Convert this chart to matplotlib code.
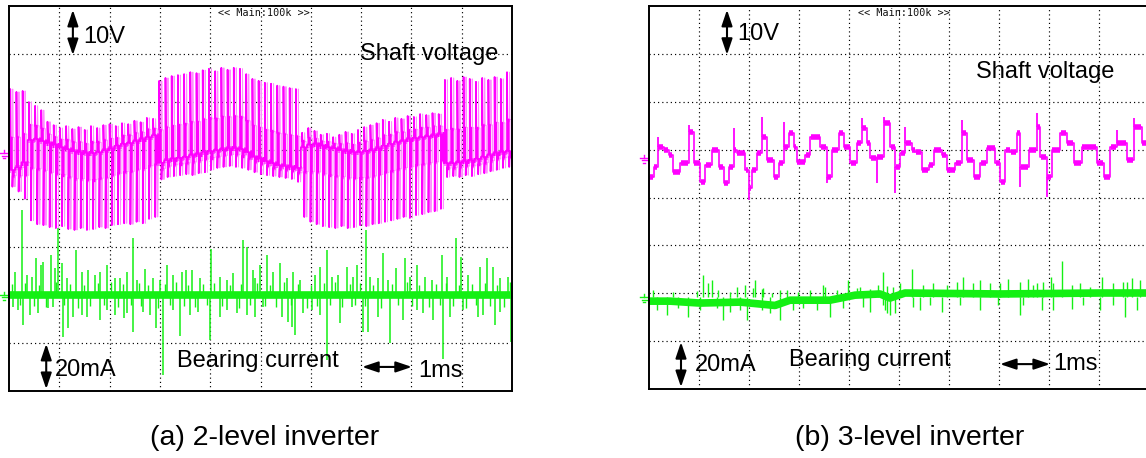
import numpy as np
import matplotlib
matplotlib.use('Agg')
import matplotlib.pyplot as plt

plt.rcParams['font.family'] = ['Liberation Sans', 'DejaVu Sans']

MAG = '#ff00ff'
MAG_LT = '#ff8cff'
GRN = '#14f014'

# ---------------- (a) 2-level inverter ----------------
# shaft voltage [V], one value per switching period (81 periods over 10 ms)
sv2_top = [13.3, 12.7, 12.9,
           10.6, 9.8, 8.9, 6.5, 5.8, 5.2, 5.6, 5.0, 5.4, 4.8, 5.6, 5.2, 5.8, 6.0, 5.6, 6.2, 6.0, 6.7, 6.4, 7.3, 7.1,
           15.0, 15.6, 16.0, 16.2, 16.4, 16.8, 16.6, 17.2, 17.5, 17.0, 17.7, 17.3, 17.7, 17.5, 16.4, 15.4, 15.0,
           14.6, 14.4, 14.0, 13.8, 13.5, 13.3,
           4.2, 5.2, 4.6, 3.8, 4.0, 3.3, 3.8, 4.4, 4.0, 4.8, 5.4, 5.8, 6.2, 6.9, 6.5, 7.3, 7.1, 7.7, 7.5, 8.1,
           7.9, 8.3, 8.1,
           15.2, 15.6, 15.0, 15.8, 15.4, 14.8, 15.6, 15.2, 15.8, 15.4, 16.8]
sv2_mid = [-3.5, -3.0, -2.0,
           2.7, 2.9, 2.5, 2.1, 1.7, 1.2, 0.8, 0.4, 0.2, 0.0, 0.0, 0.2, 0.6, 1.0, 1.5, 1.9, 2.1, 2.5, 2.9, 3.3, 3.7,
           -2.0, -1.5, -1.2, -1.0, -0.8, -0.4, -0.2, 0.2, 0.4, 0.6, 0.8, 1.0, 1.0, 0.8, 0.2, -0.8, -1.2, -1.7,
           -2.1, -2.5, -2.7, -2.9, -3.1,
           1.2, 1.7, 1.9, 1.5, 1.2, 1.0, 0.6, 0.4, 0.2, 0.2, 0.4, 0.6, 1.0, 1.5, 1.9, 2.3, 2.5, 2.9, 3.1, 3.3,
           3.5, 3.7, 3.9,
           -2.1, -2.1, -1.9, -1.7, -1.5, -1.2, -0.8, -0.4, 0.0, 0.2, 0.4]
sv2_bot = [-7.0, -8.0, -9.5,
           -14.0, -14.8, -15.0, -15.4, -15.6, -15.2, -15.8, -16.0, -15.6, -16.0, -15.8, -15.4, -15.6, -15.0,
           -14.8, -14.6, -14.8, -14.3, -14.6, -13.7, -13.3,
           -5.5, -5.0, -4.8, -4.6, -4.4, -4.6, -4.2, -4.0, -3.5, -3.1, -2.9, -2.7, -2.9, -3.1, -3.5, -4.0, -4.4,
           -4.6, -4.8, -5.0, -5.2, -5.4, -6.0,
           -13.3, -14.3, -14.8, -15.2, -15.4, -15.6, -15.2, -15.6, -15.4, -15.0, -15.2, -14.8, -14.6, -14.3,
           -14.0, -13.7, -13.3, -13.5, -12.9, -12.7, -12.3, -12.1, -11.6,
           -5.0, -4.8, -5.0, -4.6, -4.8, -4.4, -4.2, -3.8, -3.5, -3.1, -2.9]

# bearing current spikes: time [ms], peak [mA]
ic2_t = [0.12, 0.26, 0.36, 0.46, 0.54, 0.64, 0.68, 0.83, 0.91, 0.97, 1.05, 1.15, 1.33, 1.45, 1.57, 1.71,
         1.81, 1.95, 2.11, 2.21, 2.35, 2.47, 2.54, 2.70, 2.86, 3.00, 3.14, 3.26, 3.44, 3.52, 3.64, 3.80,
         4.02, 4.19, 4.33, 4.45, 4.65, 4.73, 4.85, 4.89, 4.99, 5.13, 5.25, 5.39, 5.53, 5.65, 5.79, 6.08,
         6.18, 6.32, 6.42, 6.54, 6.72, 6.84, 6.92, 7.10, 7.18, 7.34, 7.44, 7.53, 7.69, 7.87, 7.97, 8.11,
         8.27, 8.41, 8.61, 8.71, 8.89, 8.99, 9.13, 9.36, 9.50, 9.62, 9.76, 9.92,
         0.08, 0.18, 0.28, 0.42, 0.58, 0.78, 0.87, 1.07, 1.17, 1.27, 1.45, 1.55, 1.81, 1.95, 2.11, 2.29,
         2.35, 2.47, 2.66, 2.80, 2.92, 3.06, 3.26, 3.40, 3.60, 3.76, 4.00, 4.19, 4.33, 4.53, 4.73, 4.89,
         5.05, 5.43, 5.55, 5.63, 5.69, 5.85, 6.02, 6.18, 6.32, 6.58, 6.82, 7.04, 7.14, 7.34, 7.57, 7.83,
         8.11, 8.23, 8.43, 8.63, 8.77, 9.03, 9.32, 9.42, 9.66, 9.76, 9.99]
ic2_a = [9.6, 35.3, 8.3, 7.5, 15.4, 12.5, 13.7, 16.6, 11.2, 27.9, 13.3, 7.1, 18.7, 9.6, 10.4, 8.3,
         9.6, 12.5, 7.1, 7.1, 9.6, 23.7, 6.2, 10.8, 7.1, 6.2, 12.5, 8.3, 9.6, 10.4, 10.4, 7.1,
         19.1, 7.5, 6.2, 9.1, 22.9, 20.0, 10.4, 7.1, 12.5, 16.6, 9.6, 13.3, 7.1, 9.6, 6.2, 8.3,
         11.6, 18.7, 7.5, 8.3, 11.6, 7.5, 12.5, 27.0, 7.5, 7.1, 17.5, 6.2, 11.2, 15.4, 7.5, 12.5,
         7.5, 6.2, 16.6, 7.5, 23.7, 15.8, 8.3, 11.6, 15.4, 11.6, 7.1, 7.5,
         -5.0, -6.2, -12.5, -8.3, -7.5, -5.4, -5.0, -17.5, -13.7, -9.1, -8.3, -9.1, -10.4, -6.2, -8.3, -9.6,
         -7.5, -15.4, -7.1, -8.3, -13.7, -33.3, -6.2, -17.0, -8.3, -7.1, -18.7, -9.1, -6.2, -7.5, -8.3, -9.1,
         -5.0, -9.1, -11.2, -13.3, -16.6, -7.5, -6.2, -8.3, -27.0, -11.6, -5.0, -15.4, -15.4, -9.1, -20.0, -10.4,
         -6.2, -7.5, -10.4, -26.6, -9.1, -6.2, -9.1, -8.3, -12.5, -7.1, -19.5]
# smaller ringing around the trace
ic2_st = [0.05, 0.22, 0.32, 0.50, 0.60, 0.74, 0.94, 1.10, 1.22, 1.38, 1.50, 1.62, 1.76, 1.88, 2.02, 2.16,
          2.26, 2.42, 2.58, 2.62, 2.76, 2.96, 3.10, 3.20, 3.32, 3.48, 3.56, 3.70, 3.86, 3.94, 4.08, 4.24,
          4.40, 4.58, 4.62, 4.80, 4.94, 5.08, 5.18, 5.30, 5.46, 5.60, 5.74, 5.92, 6.00, 6.12, 6.26, 6.38,
          6.48, 6.62, 6.78, 6.88, 6.98, 7.08, 7.24, 7.40, 7.62, 7.74, 7.92, 8.02, 8.16, 8.34, 8.48, 8.56,
          8.68, 8.82, 8.94, 9.08, 9.20, 9.28, 9.46, 9.56, 9.70, 9.84, 9.96]
ic2_sa = [4.6, -4.2, 5.0, -4.6, 4.2, -5.0, 5.4, -4.2, 4.6, -5.4, 4.2, -4.6, 5.0, -4.2, 5.4, -5.0,
          4.6, -4.2, 5.0, -4.6, 4.2, -5.4, 4.6, -4.2, 5.4, -4.6, 4.2, -5.0, 4.6, -4.2, 5.0, -4.6,
          4.2, -5.4, 4.6, -4.2, 5.0, -4.6, 4.2, -5.0, 5.4, -4.2, 4.6, -5.4, 4.2, -4.6, 5.0, -4.2,
          5.4, -5.0, 4.6, -4.2, 5.0, -4.6, 4.2, -5.4, 4.6, -4.2, 5.4, -4.6, 4.2, -5.0, 4.6, -4.2,
          5.0, -4.6, 4.2, -5.4, 4.6, -4.2, 5.0, -4.6, 4.2, -5.0, 5.4]

# ---------------- (b) 3-level inverter ----------------
# shaft voltage staircase: step start [ms], level [V], overshoot at the step [V]
sv3_t = [0.00, 0.09, 0.17, 0.29, 0.39, 0.47, 0.62, 0.79, 0.89, 1.02, 1.12, 1.25, 1.39, 1.49, 1.59, 1.69,
         1.75, 1.92, 1.99, 2.05, 2.15, 2.25, 2.35, 2.49, 2.59, 2.69, 2.79, 2.89, 2.95, 3.12, 3.22, 3.42,
         3.55, 3.65, 3.79, 3.89, 4.02, 4.15, 4.25, 4.35, 4.42, 4.55, 4.69, 4.82, 4.92, 5.02, 5.12, 5.25,
         5.32, 5.45, 5.59, 5.69, 5.85, 5.95, 6.12, 6.25, 6.35, 6.49, 6.62, 6.75, 6.92, 7.02, 7.12, 7.22,
         7.35, 7.42, 7.59, 7.75, 7.82, 7.95, 8.05, 8.22, 8.35, 8.49, 8.65, 8.95, 9.09, 9.22, 9.35, 9.55,
         9.69, 9.85]
sv3_v = [-4.0, -1.9, 2.3, 1.7, 0.6, -2.9, -1.0, 5.4, -1.0, -5.0, -1.5, 1.7, -1.9, -5.2, -1.9, 1.7,
         1.0, -2.5, -6.3, -2.5, 1.0, 4.4, -0.4, -4.0, -1.0, 2.3, 5.2, 2.3, -0.8, 0.6, 4.4, 2.3,
         -4.0, 1.7, 5.2, 2.3, -1.0, 3.1, 6.3, 3.1, 0.0, 0.2, 7.3, 2.3, -1.9, 1.0, 3.1, 1.7,
         1.3, -2.5, -1.5, 1.7, 0.6, -2.5, -1.0, 5.2, -0.4, -4.0, -1.0, 2.1, -1.0, -5.0, 1.7, 1.3,
         5.2, -1.9, 1.7, 6.5, 0.2, -4.0, 1.7, 5.2, 3.1, -1.0, 2.3, -1.0, -4.0, 2.3, 3.1, -0.4,
         6.5, 3.1]
sv3_pk = [-6.7, -1.9, 4.4, 1.7, 0.6, -2.9, -1.0, 6.9, -1.0, -5.0, -1.5, 1.7, -1.9, -5.2, -1.9, 6.3,
          1.0, -2.5, -8.8, -2.5, 1.0, 8.6, -0.4, -4.0, -1.0, 7.5, 5.2, 2.3, -0.8, 0.6, 4.4, 2.3,
          -5.2, 1.7, 5.2, 2.3, -1.0, 3.1, 8.4, 3.1, 0.0, -5.2, 8.6, 2.3, -7.3, 1.0, 6.5, 1.7,
          1.3, -2.5, -1.5, 1.7, 0.6, -2.5, -1.0, 7.9, -0.4, -4.0, -1.0, 2.1, -1.0, -5.0, 1.7, 1.3,
          5.2, -6.1, 1.7, 9.4, 0.2, -8.1, 1.7, 5.2, 3.1, -1.0, 2.3, -1.0, -4.0, 2.3, 5.8, -0.4,
          8.4, 3.1]

# bearing current: noise band centre [ms], [mA]
ic3_bt = [0.0, 0.42, 1.02, 1.82, 2.52, 2.82, 3.62, 4.12, 4.62, 4.82, 5.12, 7.02, 9.02, 10.0]
ic3_ba = [-1.7, -1.7, -2.5, -2.1, -3.5, -1.3, -1.3, 0.8, 1.3, -0.4, 1.7, 1.3, 1.7, 1.7]
# spikes
ic3_t = [1.08, 1.26, 1.92, 2.12, 2.28, 2.62, 3.48, 3.98, 4.16, 4.68, 5.26, 5.68, 6.28, 6.62, 7.18,
         7.58, 7.76, 8.04, 8.26, 9.06, 9.48, 9.66,
         0.36, 0.78, 1.48, 1.96, 2.62, 3.62, 4.42, 4.76, 4.92, 5.28, 5.86, 6.98, 7.86, 8.46, 9.52,
         0.08, 0.48, 0.96, 1.18, 1.38, 1.62, 1.76, 2.08, 2.26, 2.46, 2.76, 2.98, 3.22, 3.52, 3.76, 4.22,
         4.42, 4.58, 4.76, 4.88, 5.02, 5.48, 5.96, 6.16, 6.48, 6.82, 7.02, 7.42, 7.68, 7.88, 8.08, 8.46,
         8.62, 8.82, 9.28, 9.56, 9.82,
         0.16, 0.58, 1.02, 1.36, 1.62, 1.82, 2.26, 2.42, 2.88, 3.08, 3.36, 3.88, 4.28, 4.68, 4.72, 4.82,
         5.42, 5.62, 6.22, 6.62, 7.42, 7.48, 8.08, 8.68, 9.02, 9.28, 9.76]
ic3_a = [9.2, 7.1, 5.0, 7.1, 3.8, 2.9, 5.0, 7.1, 3.8, 10.4, 11.7, 5.8, 8.4, 7.1, 7.5,
         7.5, 5.8, 8.4, 15.0, 8.4, 6.3, 7.9,
         -7.5, -8.4, -9.6, -9.6, -9.6, -8.4, -6.3, -6.7, -6.7, -4.2, -6.3, -3.3, -5.4, -5.0, -8.4,
         2.9, 2.1, 2.5, 5.8, 2.9, 2.1, 4.2, 3.8, 3.3, 1.7, 2.9, 2.1, 2.9, 4.2, 2.9, 4.2,
         3.3, 5.0, 4.6, 4.2, 5.8, 5.0, 5.0, 6.3, 5.8, 5.8, 5.8, 6.3, 5.0, 6.3, 5.8, 5.0,
         5.8, 4.2, 5.8, 6.3, 7.1,
         -5.4, -4.6, -5.4, -4.6, -6.3, -5.4, -5.4, -6.7, -5.4, -4.6, -5.4, -4.6, -4.2, -3.3, -5.4, -7.5,
         -5.4, -3.3, -3.3, -5.4, -7.5, -3.3, -5.4, -3.3, -5.4, -3.3, -5.4]

W, H, DPI = 1146, 458, 100
fig = plt.figure(figsize=(W / DPI, H / DPI), dpi=DPI)


def px_axes(x0, y0, x1, y1):
    """axes placed by pixel box (top-left origin)"""
    return fig.add_axes([x0 / W, 1 - y1 / H, (x1 - x0) / W, (y1 - y0) / H])


def scope(ax):
    ax.set_xlim(0, 10)
    ax.set_ylim(0, 8)
    ax.set_xticks(np.arange(1, 10))
    ax.set_yticks(np.arange(1, 8))
    ax.grid(True, color='black', linestyle=(0, (1, 2.6)), linewidth=0.85)
    ax.tick_params(length=0, labelbottom=False, labelleft=False)
    for s in ax.spines.values():
        s.set_linewidth(1.4)
    ax.set_axisbelow(True)


def ground(ax, y, color, ax_w):
    # small earth symbol just left of the screen
    u = 1.0 / ax_w
    tr = ax.get_yaxis_transform()
    dy = 1 / 48.0
    kw = dict(color=color, lw=1.0, transform=tr, clip_on=False)
    ax.plot([-9 * u, -1 * u], [y, y], **kw)
    ax.plot([-7.5 * u, -2.5 * u], [y - 2.5 * dy, y - 2.5 * dy], **kw)
    ax.plot([-6 * u, -4 * u], [y - 5 * dy, y - 5 * dy], **kw)
    ax.plot([-5 * u, -5 * u], [y + 3 * dy, y], **kw)


def darrow(ax, x0, y0, x1, y1):
    ax.annotate('', xy=(x1, y1), xytext=(x0, y0),
                arrowprops=dict(arrowstyle='<|-|>,head_length=0.8,head_width=0.27', color='black',
                                lw=1.5, mutation_scale=12, shrinkA=0, shrinkB=0))


def labels(ax, v_arrow_x, v_txt, sh_txt, i_arrow_x, i_txt, br_txt, ms_arrow, ms_txt, main_x):
    darrow(ax, v_arrow_x, 6.98, v_arrow_x, 7.92)
    ax.text(v_txt[0], v_txt[1], '10V', fontsize=17, va='baseline')
    ax.text(sh_txt[0], sh_txt[1], 'Shaft voltage', fontsize=17, va='baseline')
    darrow(ax, i_arrow_x, 0.04, i_arrow_x, 0.98)
    ax.text(i_txt[0], i_txt[1], '20mA', fontsize=17, va='baseline')
    ax.text(br_txt[0], br_txt[1], 'Bearing current', fontsize=17, va='baseline')
    darrow(ax, ms_arrow[0], ms_arrow[2], ms_arrow[1], ms_arrow[2])
    ax.text(ms_txt[0], ms_txt[1], '1ms', fontsize=17, va='baseline')
    ax.text(main_x, 7.86, '<< Main:100k >>', fontsize=7.3, family='DejaVu Sans Mono',
            color='#111111', va='center')


# ---------------- panel (a) ----------------
axA = px_axes(9, 6, 512, 391)
scope(axA)
V0A, I0A = 4.945, 2.0

n = len(sv2_top)
P = 10.0 / n
tt, vv = [], []
seg_m, seg_h, seg_l = [], [], []
for k in range(n):
    t0 = k * P
    m, top, bot = sv2_mid[k], sv2_top[k], sv2_bot[k]
    hi = m + 0.4 * (top - m)
    lo = m + 0.35 * (bot - m)
    for f, v in [(0.0, m), (0.2, m), (0.2, top), (0.25, hi), (0.45, hi), (0.47, m), (0.55, m),
                 (0.55, bot), (0.6, lo), (0.78, lo), (0.8, m), (1.0, m)]:
        tt.append(t0 + f * P)
        vv.append(v)
    seg_m += [(t0, t0 + 0.2 * P, m), (t0 + 0.47 * P, t0 + 0.55 * P, m), (t0 + 0.8 * P, t0 + P, m)]
    seg_h.append((t0 + 0.25 * P, t0 + 0.45 * P, hi))
    seg_l.append((t0 + 0.6 * P, t0 + 0.78 * P, lo))

tt = np.array(tt)
vv = V0A + np.array(vv) / 10
# faint persistence echo of the trace, then the trace itself
axA.plot(tt + 0.4 * P, vv, color=MAG_LT, lw=0.7)
axA.plot(tt, vv, color=MAG, lw=1.25)
for segs, w in [(seg_m, 3.6), (seg_h, 2.4), (seg_l, 2.4)]:
    s = np.array(segs)
    axA.hlines(V0A + s[:, 2] / 10, s[:, 0], s[:, 1], color=MAG, lw=w, capstyle='butt')

# bearing current
axA.hlines(I0A, 0, 10, color=GRN, lw=5.5)
axA.vlines(ic2_st, I0A, I0A + np.array(ic2_sa) / 20, color=GRN, lw=1.0)
axA.vlines(ic2_t, I0A, I0A + np.array(ic2_a) / 20, color=GRN, lw=1.1)

ground(axA, V0A, MAG, 503)
ground(axA, I0A, GRN, 503)
labels(axA, 1.27, (1.47, 7.24), (6.98, 6.88), 0.74, (0.91, 0.32), (3.34, 0.505),
       (7.02, 8.01, 0.5), (8.13, 0.285), 4.16)

# ---------------- panel (b) ----------------
axB = px_axes(649, 6, 1149, 389)
scope(axB)
V0B, I0B = 4.825, 1.92

t3 = np.array(sv3_t + [10.0])
v3 = np.array(sv3_v)
axB.step(t3, V0B + np.append(v3, v3[-1]) / 10, where='post', color=MAG, lw=1.2)
axB.hlines(V0B + v3 / 10, t3[:-1] + 0.01, t3[1:] - 0.01, color=MAG, lw=4.0, capstyle='butt')
axB.vlines(sv3_t, V0B + v3 / 10, V0B + np.array(sv3_pk) / 10, color=MAG, lw=1.3)

axB.plot(ic3_bt, I0B + np.array(ic3_ba) / 20, color=GRN, lw=5.5, solid_capstyle='butt')
axB.vlines(ic3_t, I0B, I0B + np.array(ic3_a) / 20, color=GRN, lw=1.0)

ground(axB, V0B, MAG, 500)
ground(axB, I0B, GRN, 500)
labels(axB, 1.56, (1.76, 7.29), (6.54, 6.49), 0.64, (0.92, 0.376), (2.80, 0.487),
       (7.02, 8.02, 0.52), (8.08, 0.397), 4.18)

fig.text(265 / W, 1 - 438 / H, '(a) 2-level inverter', ha='center', va='center', fontsize=20.5)
fig.text(910 / W, 1 - 438 / H, '(b) 3-level inverter', ha='center', va='center', fontsize=20.5)

fig.savefig('out.png', dpi=DPI)
